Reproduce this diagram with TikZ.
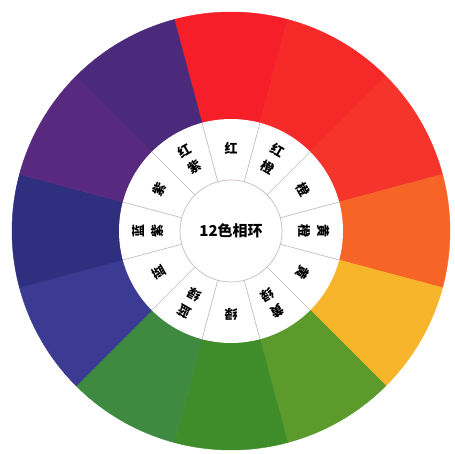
\documentclass[tikz,border=0pt]{standalone}
\usepackage{fontspec}
\newfontfamily\cjk{Noto Sans CJK SC}
\definecolor{hueR}{HTML}{F61E28}
\definecolor{hueRO}{HTML}{F52A28}
\definecolor{hueO}{HTML}{F5352C}
\definecolor{hueYO}{HTML}{F66428}
\definecolor{hueY}{HTML}{F6B52A}
\definecolor{hueYG}{HTML}{5C9A2C}
\definecolor{hueG}{HTML}{3F8C2A}
\definecolor{hueBG}{HTML}{3E8A40}
\definecolor{hueB}{HTML}{3C3B94}
\definecolor{hueBV}{HTML}{2F2F80}
\definecolor{hueV}{HTML}{58297F}
\definecolor{hueRV}{HTML}{4B2A7B}
\definecolor{lineGray}{HTML}{C9BBBE}
\begin{document}
\begin{tikzpicture}[x=1pt, y=1pt,
    divider/.style={draw=lineGray, line width=0.7pt},
    lbl/.style={font=\cjk\bfseries\fontsize{13}{19}\selectfont, align=center, inner sep=0pt},
    title/.style={font=\cjk\bfseries\fontsize{15}{17}\selectfont, inner sep=0pt}]
    \useasboundingbox (0,0) rectangle (455,453);
    \coordinate (c) at (231,222);

    % colour wedges, 30 degrees each
    \foreach \a/\col in {90/hueR, 60/hueRO, 30/hueO, 0/hueYO, -30/hueY, -60/hueYG,
                         -90/hueG, -120/hueBG, -150/hueB, 180/hueBV, 150/hueV, 120/hueRV}
        \filldraw[\col, line width=0.4pt] (c) -- ++(\a-15:219) arc[start angle=\a-15, end angle=\a+15, radius=219] -- cycle;

    \fill[white] (c) circle (112);
    \foreach \a in {15,45,...,345}
        \draw[divider] (c) ++(\a:51) -- ++(\a:61);
    \draw[divider] (c) circle (51);

    \node[title] (title) at (c) {12色相环};

    \foreach \a/\txt [count=\i] in {90/红, 60/红\\橙, 30/橙, 0/黄\\橙, -30/黄, -60/黄\\绿,
                                    -90/绿, -120/蓝\\绿, -150/蓝, 180/蓝\\紫, 150/紫, 120/红\\紫}
        \node[lbl, rotate=\a-90] (lbl\i) at ([shift={(\a:83)}]c) {\txt};
\end{tikzpicture}
\end{document}
